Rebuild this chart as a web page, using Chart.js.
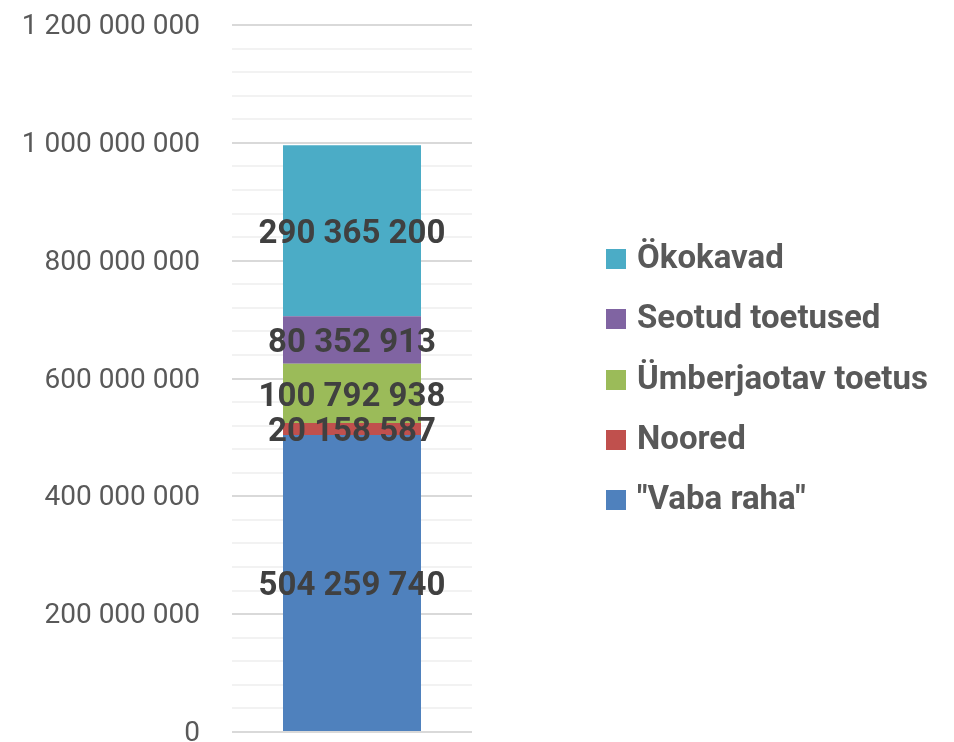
<!DOCTYPE html>
<html>
<head>
<meta charset="utf-8">
<script src="https://cdn.jsdelivr.net/npm/chart.js@4.4.1/dist/chart.umd.min.js"></script>
<style>
  html, body { margin: 0; padding: 0; background: #fff; }
  #wrap { position: relative; width: 954px; height: 742px; }
  #legend { position: absolute; left: 606px; top: 0; font-family: Roboto, sans-serif; font-weight: bold; font-size: 33px; color: #595959; }
  #legend div { position: absolute; white-space: nowrap; height: 40px; line-height: 40px; }
  #legend span.box { display: inline-block; width: 20px; height: 20px; margin-right: 11px; vertical-align: -1px; }
</style>
</head>
<body>
<div id="wrap">
  <canvas id="myChart" width="954" height="742"></canvas>
  <div id="legend"></div>
</div>
<script>
var categories = [''];
var seriesNames = ['"Vaba raha"', 'Noored', 'Ümberjaotav toetus', 'Seotud toetused', 'Ökokavad'];
var vabaRaha = [504259740];
var noored = [20158587];
var umberjaotav = [100792938];
var seotud = [80352913];
var okokavad = [290365200];
var colors = ['#4F81BD', '#C0504D', '#9BBB59', '#8064A2', '#4BACC6'];
var yMax = 1200000000;
var yStep = 40000000;
var yLabelStep = 200000000;

function fmt(v) {
  return String(v).replace(/\B(?=(\d{3})+(?!\d))/g, ' ');
}

// value labels in the middle of each segment
var barLabels = {
  id: 'barLabels',
  afterDatasetsDraw: function (chart) {
    var ctx = chart.ctx;
    ctx.save();
    ctx.font = 'bold 33px Roboto';
    ctx.fillStyle = '#404040';
    ctx.textAlign = 'center';
    ctx.textBaseline = 'middle';
    chart.data.datasets.forEach(function (ds, i) {
      chart.getDatasetMeta(i).data.forEach(function (bar, j) {
        var p = bar.getCenterPoint();
        ctx.fillText(fmt(ds.data[j]), p.x, p.y + 4);
      });
    });
    ctx.restore();
  }
};

function renderChart() {
  var ctx = document.getElementById('myChart').getContext('2d');
  var seriesData = [vabaRaha, noored, umberjaotav, seotud, okokavad];
  var datasets = seriesData.map(function (d, i) {
    return {
      label: seriesNames[i],
      data: d,
      backgroundColor: colors[i],
      barPercentage: 0.575,
      categoryPercentage: 1
    };
  });
  var chart = new Chart(ctx, {
    type: 'bar',
    data: { labels: categories, datasets: datasets },
    options: {
      responsive: false,
      animation: false,
      layout: { padding: { left: 0, right: 482, top: 25, bottom: 10 } },
      plugins: { legend: { display: false }, tooltip: { enabled: false } },
      scales: {
        x: {
          display: false,
          stacked: true
        },
        y: {
          stacked: true,
          min: 0,
          max: yMax,
          border: { display: false },
          grid: {
            drawTicks: false,
            lineWidth: 2,
            color: function (c) {
              return c.tick && c.tick.value % yLabelStep === 0 ? '#d9d9d9' : '#f2f2f2';
            }
          },
          ticks: {
            stepSize: yStep,
            padding: 32,
            labelOffset: 2,
            color: '#595959',
            font: { family: 'Roboto', size: 28 },
            autoSkip: false,
            callback: function (v) { return v % yLabelStep === 0 ? fmt(v) : ''; }
          },
          afterFit: function (scale) {
            scale.width = 232;
            scale.paddingTop = 0;
            scale.paddingBottom = 0;
          }
        }
      }
    },
    plugins: [barLabels]
  });

  // legend, top item first
  var legend = document.getElementById('legend');
  var tops = [237, 297, 358, 418, 478];
  chart.data.datasets.slice().reverse().forEach(function (ds, i) {
    var item = document.createElement('div');
    item.style.top = tops[i] + 'px';
    var box = document.createElement('span');
    box.className = 'box';
    box.style.background = ds.backgroundColor;
    item.appendChild(box);
    item.appendChild(document.createTextNode(ds.label));
    legend.appendChild(item);
  });
}

Promise.all([
  document.fonts.load('28px Roboto'),
  document.fonts.load('bold 33px Roboto')
]).then(renderChart, renderChart);
</script>
</body>
</html>
